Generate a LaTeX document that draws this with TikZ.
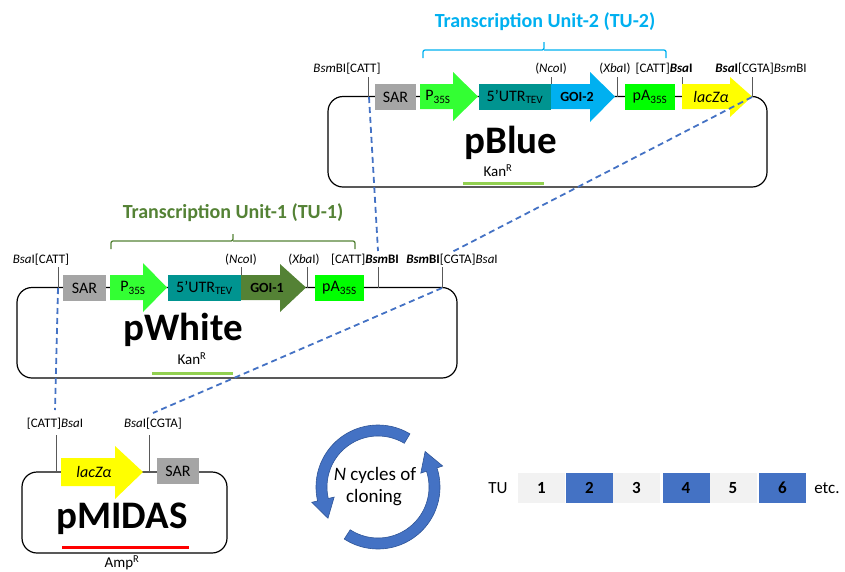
\documentclass[tikz,border=0pt]{standalone}
\usepackage{fontspec}
\setmainfont{Carlito}
\usetikzlibrary{calc}
\definecolor{cyanT}{HTML}{00B0F0}
\definecolor{oliveT}{HTML}{548235}
\definecolor{sarG}{HTML}{A5A5A5}
\definecolor{pG}{HTML}{33FF33}
\definecolor{paG}{HTML}{00FF00}
\definecolor{utrT}{HTML}{009490}
\definecolor{lacY}{HTML}{FFFF00}
\definecolor{dashB}{HTML}{4472C4}
\definecolor{kanG}{HTML}{92D050}
\definecolor{tuL}{HTML}{F2F2F2}
\definecolor{tuB}{HTML}{4472C4}
\definecolor{tickG}{HTML}{595959}
\definecolor{cycE}{HTML}{2F5597}
\begin{document}
\begin{tikzpicture}[x=1pt,y=-1pt,
  lbl/.style={font=\fontsize{13}{15}\selectfont,inner sep=0pt},
  boxlbl/.style={font=\fontsize{16}{18}\selectfont,inner sep=0pt},
  goilbl/.style={font=\fontsize{14}{16}\selectfont\bfseries,inner sep=0pt},
  title/.style={font=\fontsize{20}{24}\selectfont\bfseries,inner sep=0pt},
  pname/.style={font=\fontsize{39}{45}\selectfont\bfseries,inner sep=0pt,anchor=base},
  resist/.style={font=\fontsize{15}{17}\selectfont,inner sep=0pt},
  plasmid/.style={draw=black,line width=1.2pt,rounded corners=15pt},
  tickline/.style={draw=tickG,line width=0.9pt},
  bracestyle/.style={line width=1.3pt,rounded corners=2pt},
  dashconn/.style={draw=dashB,dashed,dash pattern=on 6pt off 4pt,line width=1.8pt},
  markline/.style={line width=3pt},
  tubox/.style={minimum width=47pt,minimum height=30pt,inner sep=0pt,font=\fontsize{17}{19}\selectfont\bfseries},
  cyc/.style={fill=dashB,draw=cycE,line width=0.6pt}
]
\useasboundingbox (0,0) rectangle (845,571);

% ================= pBlue =================
\node[title,text=cyanT] (tu2) at (545,22) {Transcription Unit-2 (TU-2)};
\draw[bracestyle,cyanT] (423,58) |- (544,50) -- (544,42);
\draw[bracestyle,cyanT] (544,50) -| (666,58);

\draw[plasmid] (328,96.5) rectangle (767,187);
% ticks
\draw[tickline] (368,77) -- (368,96.5);
\draw[tickline] (551,77) -- (551,96.5);
\draw[tickline] (617,77) -- (617,96.5);
\draw[tickline] (682,77) -- (682,96.5);
\draw[tickline] (752,77) -- (752,96.5);
% features
\fill[sarG] (375,84) rectangle (416,110);
\node[boxlbl] (pb-sar) at (395.5,97) {SAR};
\fill[pG] (420,84) -- (453,84) -- (453,72) -- (478,96.5) -- (453,121) -- (453,109) -- (420,109) -- cycle;
\node[boxlbl] (pb-p) at (438,97) {P\textsubscript{35S}};
\fill[utrT] (479,84) rectangle (551,110);
\node[boxlbl] (pb-utr) at (515,97) {5’UTR\textsubscript{TEV}};
\fill[cyanT] (551,84) -- (590,84) -- (590,72) -- (615,96.5) -- (590,122) -- (590,109) -- (551,109) -- cycle;
\node[goilbl] (pb-goi) at (577,97) {GOI-2};
\fill[paG] (625,84) rectangle (675,110);
\node[boxlbl] (pb-pa) at (650,97) {pA\textsubscript{35S}};
\fill[lacY] (682,84) -- (730,84) -- (730,77) -- (752,96.5) -- (730,117) -- (730,109) -- (682,109) -- cycle;
\node[boxlbl] (pb-lac) at (711,97) {\textit{lacZα}};
% labels
\node[lbl] (pb-l1) at (347,69) {\textit{Bsm}BI[CATT]};
\node[lbl] (pb-l2) at (551,69) {(\textit{Nco}I)};
\node[lbl] (pb-l3) at (615,69) {(\textit{Xba}I)};
\node[lbl] (pb-l4) at (664,69) {[CATT]\textbf{\textit{Bsa}I}};
\node[lbl] (pb-l5) at (761,69) {\textbf{\textit{Bsa}I}[CGTA]\textit{Bsm}BI};
\node[pname] (pblue) at (511,153) {pBlue};
\node[resist] (pb-kan) at (498,171) {Kan\textsuperscript{R}};
\draw[markline,kanG] (463,183) -- (544,183);

% ================= pWhite =================
\node[title,text=oliveT] (tu1) at (233,213) {Transcription Unit-1 (TU-1)};
\draw[bracestyle,oliveT] (111,249) |- (233,241) -- (233,234);
\draw[bracestyle,oliveT] (233,241) -| (355,249);

\draw[plasmid] (17,287.5) rectangle (457,378);
\draw[tickline] (58,267) -- (58,287.5);
\draw[tickline] (241,267) -- (241,287.5);
\draw[tickline] (307,267) -- (307,287.5);
\draw[tickline] (378,267) -- (378,287.5);
\draw[tickline] (442,267) -- (442,287.5);
\fill[sarG] (63,275) rectangle (106,301);
\node[boxlbl] (pw-sar) at (84.5,288) {SAR};
\fill[pG] (110,275) -- (143,275) -- (143,263) -- (167,287.5) -- (143,312) -- (143,300) -- (110,300) -- cycle;
\node[boxlbl] (pw-p) at (133,288) {P\textsubscript{35S}};
\fill[utrT] (168,275) rectangle (241,301);
\node[boxlbl] (pw-utr) at (204.5,288) {5’UTR\textsubscript{TEV}};
\fill[oliveT] (241,275) -- (280,275) -- (280,264) -- (306,287.5) -- (280,312) -- (280,300) -- (241,300) -- cycle;
\node[goilbl] (pw-goi) at (267,288) {GOI-1};
\fill[paG] (315,275) rectangle (364,301);
\node[boxlbl] (pw-pa) at (339.5,288) {pA\textsubscript{35S}};
\node[lbl] (pw-l1) at (41,260) {\textit{Bsa}I[CATT]};
\node[lbl] (pw-l2) at (241,260) {(\textit{Nco}I)};
\node[lbl] (pw-l3) at (304,260) {(\textit{Xba}I)};
\node[lbl] (pw-l4) at (365,260) {[CATT]\textbf{\textit{Bsm}BI}};
\node[lbl] (pw-l5) at (452,260) {\textbf{\textit{Bsm}BI}[CGTA]\textit{Bsa}I};
\node[pname] (pwhite) at (183,340) {pWhite};
\node[resist] (pw-kan) at (192,359) {Kan\textsuperscript{R}};
\draw[markline,kanG] (152,373) -- (233,373);

% ================= pMIDAS =================
\draw[plasmid] (22,472) rectangle (227,553);
\draw[tickline] (56,435) -- (56,472);
\draw[tickline] (149,435) -- (149,472);
\fill[lacY] (61,458) -- (115,458) -- (115,446) -- (143,472) -- (115,499) -- (115,486) -- (61,486) -- cycle;
\node[boxlbl] (pm-lac) at (94,472) {\textit{lacZα}};
\fill[sarG] (157,458) rectangle (199,484);
\node[boxlbl] (pm-sar) at (178,471) {SAR};
\node[lbl] (pm-l1) at (55,424) {[CATT]\textit{Bsa}I};
\node[lbl] (pm-l2) at (153,424) {\textit{Bsa}I[CGTA]};
\node[pname] (pmidas) at (122,528) {pMIDAS};
\draw[markline,red] (62,547) -- (189,547);
\node[resist] (pm-amp) at (122,563) {Amp\textsuperscript{R}};

% ================= cycle =================
\path[cyc] plot[domain=59:193,samples=50] ({378+62*cos(\x)},{487-62*sin(\x)})
  -- ({378+68*cos(193)},{487-68*sin(193)})
  -- ({378+59*cos(212)},{487-59*sin(212)})
  -- ({378+45*cos(193)},{487-45*sin(193)})
  -- plot[domain=193:59,samples=50] ({378+51*cos(\x)},{487-51*sin(\x)}) -- cycle;
\path[cyc] plot[domain=237:378,samples=50] ({378+62*cos(\x)},{487-62*sin(\x)})
  -- ({378+68*cos(378)},{487-68*sin(378)})
  -- ({378+59*cos(397)},{487-59*sin(397)})
  -- ({378+45*cos(378)},{487-45*sin(378)})
  -- plot[domain=378:237,samples=50] ({378+51*cos(\x)},{487-51*sin(\x)}) -- cycle;
\node[font=\fontsize{19}{21}\selectfont,inner sep=0pt] (cyc1) at (375,475) {\textit{N} cycles of};
\node[font=\fontsize{19}{21}\selectfont,inner sep=0pt] (cyc2) at (374,498) {cloning};

% ================= TU strip =================
\node[font=\fontsize{17}{19}\selectfont,inner sep=0pt] (tu) at (498,488) {TU};
\node[tubox,fill=tuL] (tu1b) at (541.5,488) {1};
\node[tubox,fill=tuB] (tu2b) at (589.5,488) {2};
\node[tubox,fill=tuL] (tu3b) at (636.5,488) {3};
\node[tubox,fill=tuB] (tu4b) at (686,488) {4};
\node[tubox,fill=tuL] (tu5b) at (733,488) {5};
\node[tubox,fill=tuB] (tu6b) at (782.5,488) {6};
\node[font=\fontsize{17}{19}\selectfont,inner sep=0pt] (etc) at (827,488) {etc.};

% ================= dashed connectors =================
\coordinate (pbL) at (369,97);   \coordinate (pwT1) at (378,251);
\coordinate (pbR) at (752,97);   \coordinate (pwT2) at (452,252);
\coordinate (pwR) at (442,288);  \coordinate (pmT2) at (153,413);
\coordinate (pwL) at (58,288);   \coordinate (pmT1) at (55,410);
\draw[dashconn] (pbL) -- (pwT1);
\draw[dashconn] (pbR) -- (pwT2);
\draw[dashconn] (pwR) -- (pmT2);
\draw[dashconn] (pwL) -- (pmT1);
\end{tikzpicture}
\end{document}
